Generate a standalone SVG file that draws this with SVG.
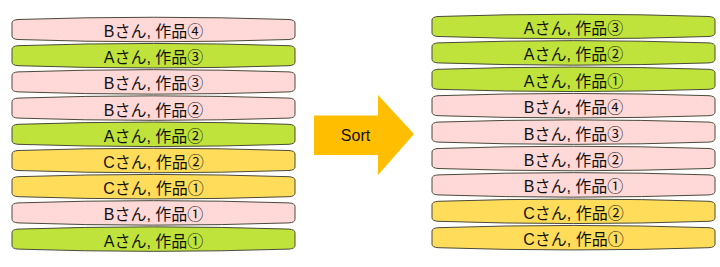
<svg xmlns="http://www.w3.org/2000/svg" xmlns:xlink="http://www.w3.org/1999/xlink" width="720" height="267" viewBox="0 0 720 267">
<style>
.a{fill:#BFE33B}
.b{fill:#FFD8D8}
.c{fill:#FFDC5A}
.bar{stroke:#4a4a3a;stroke-width:1}
text{font-family:"Liberation Sans","Noto Sans CJK JP",sans-serif;font-size:16px;fill:#111;text-anchor:middle}
</style>
<defs>
<path id="bar" d="M0,6 Q0,3 6,2.5 Q141.5,-2 277,2.5 Q283,3 283,6 V19 Q283,22 277,22.5 Q141.5,27 6,22.5 Q0,22 0,19 Z"/>
</defs>
<rect width="720" height="267" fill="#fff"/>
<g id="left">
<g id="L1" transform="translate(12,17)"><use xlink:href="#bar" class="bar b"/><text x="141.5" y="20">Bさん, 作品④</text></g>
<g id="L2" transform="translate(12,43.2)"><use xlink:href="#bar" class="bar a"/><text x="141.5" y="20">Aさん, 作品③</text></g>
<g id="L3" transform="translate(12,69.4)"><use xlink:href="#bar" class="bar b"/><text x="141.5" y="20">Bさん, 作品③</text></g>
<g id="L4" transform="translate(12,95.6)"><use xlink:href="#bar" class="bar b"/><text x="141.5" y="20">Bさん, 作品②</text></g>
<g id="L5" transform="translate(12,121.8)"><use xlink:href="#bar" class="bar a"/><text x="141.5" y="20">Aさん, 作品②</text></g>
<g id="L6" transform="translate(12,148)"><use xlink:href="#bar" class="bar c"/><text x="141.5" y="20">Cさん, 作品②</text></g>
<g id="L7" transform="translate(12,174.2)"><use xlink:href="#bar" class="bar c"/><text x="141.5" y="20">Cさん, 作品①</text></g>
<g id="L8" transform="translate(12,200.4)"><use xlink:href="#bar" class="bar b"/><text x="141.5" y="20">Bさん, 作品①</text></g>
<g id="L9" transform="translate(12,226.6)"><use xlink:href="#bar" class="bar a"/><text x="141.5" y="20">Aさん, 作品①</text></g>
</g>
<g id="sort">
<polygon points="314,115.5 378,115.5 378,95 414,134 378,175 378,155 314,155" fill="#FFBF00"/>
<text x="355.5" y="141">Sort</text>
</g>
<g id="right">
<g id="R1" transform="translate(432,14)"><use xlink:href="#bar" class="bar a"/><text x="141.5" y="20">Aさん, 作品③</text></g>
<g id="R2" transform="translate(432,40.4)"><use xlink:href="#bar" class="bar a"/><text x="141.5" y="20">Aさん, 作品②</text></g>
<g id="R3" transform="translate(432,66.8)"><use xlink:href="#bar" class="bar a"/><text x="141.5" y="20">Aさん, 作品①</text></g>
<g id="R4" transform="translate(432,93.2)"><use xlink:href="#bar" class="bar b"/><text x="141.5" y="20">Bさん, 作品④</text></g>
<g id="R5" transform="translate(432,119.6)"><use xlink:href="#bar" class="bar b"/><text x="141.5" y="20">Bさん, 作品③</text></g>
<g id="R6" transform="translate(432,146)"><use xlink:href="#bar" class="bar b"/><text x="141.5" y="20">Bさん, 作品②</text></g>
<g id="R7" transform="translate(432,172.4)"><use xlink:href="#bar" class="bar b"/><text x="141.5" y="20">Bさん, 作品①</text></g>
<g id="R8" transform="translate(432,198.8)"><use xlink:href="#bar" class="bar c"/><text x="141.5" y="20">Cさん, 作品②</text></g>
<g id="R9" transform="translate(432,225.2)"><use xlink:href="#bar" class="bar c"/><text x="141.5" y="20">Cさん, 作品①</text></g>
</g>
</svg>
